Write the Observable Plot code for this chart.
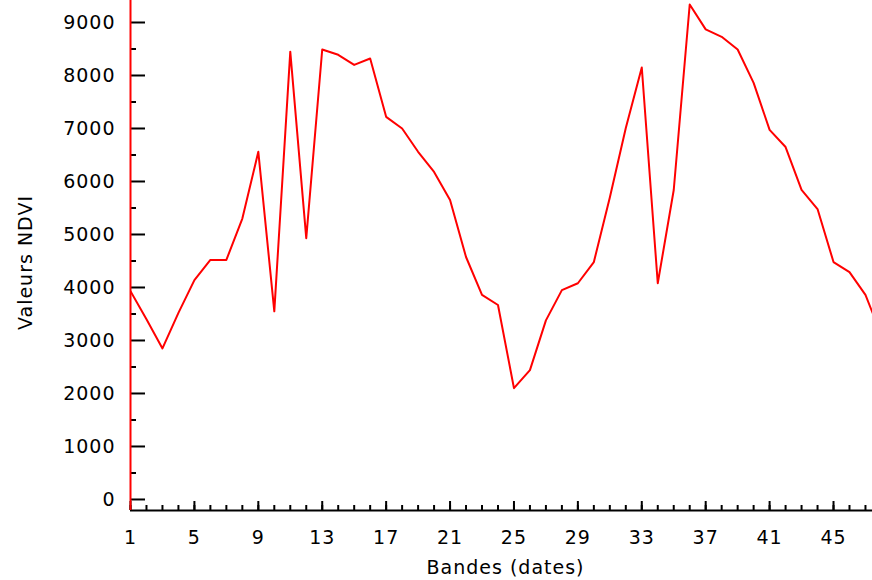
<!DOCTYPE html>
<html>
<head>
<meta charset="utf-8">
<script src="https://cdn.jsdelivr.net/npm/d3@7"></script>
<script src="https://cdn.jsdelivr.net/npm/@observablehq/plot@0.6"></script>
<style>
  html, body { margin: 0; padding: 0; background: #fff; }
</style>
</head>
<body>
<div id="chart"></div>
<script>
const bands = d3.range(1, 49);
const ndvi = [3930, 3400, 2850, 3520, 4140, 4520, 4520, 5300, 6560, 3550,
              8450, 4930, 8490, 8390, 8200, 8320, 7220, 7000, 6560, 6180,
              5650, 4575, 3860, 3670, 2100, 2440, 3380, 3950, 4080, 4480,
              5700, 7010, 8150, 4080, 5840, 9340, 8870, 8730, 8490, 7860,
              6975, 6650, 5840, 5480, 4480, 4290, 3860, 3100];
const yMajor = d3.range(0, 9001, 1000);
const yMinor = d3.range(500, 9000, 1000);
const xMajor = d3.range(1, 48, 4);
const xMinor = d3.range(1, 48, 1);
const xDomain = [1, 47.44];
const yDomain = [-208, 9415];

const data = bands.map((b, i) => ({band: b, value: ndvi[i]}));
const font = "DejaVu Sans";
const frameW = 872 - 130, frameH = 510;

const chart = Plot.plot({
  width: 872,
  height: 580,
  marginLeft: 130,
  marginRight: 0,
  marginTop: 0,
  marginBottom: 70,
  x: {domain: xDomain},
  y: {domain: yDomain},
  style: {fontFamily: font, fontSize: "19px", letterSpacing: "1px", color: "#000", background: "#fff"},
  marks: [
    Plot.axisY(yMajor, {tickSize: 0, tickPadding: 15, tickFormat: d => String(d), fontSize: 19, label: null}),
    Plot.axisX(xMajor, {tickSize: 0, tickPadding: 20, tickFormat: d => String(d), fontSize: 19, label: null}),
    Plot.tickY(yMajor, {y: d => d, stroke: "#000", strokeWidth: 2, insetRight: frameW - 15}),
    Plot.tickY(yMinor, {y: d => d, stroke: "#000", strokeWidth: 2, insetRight: frameW - 6}),
    Plot.tickX(xMajor, {x: d => d, stroke: "#000", strokeWidth: 2, insetTop: frameH - 9}),
    Plot.tickX(xMinor, {x: d => d, stroke: "#000", strokeWidth: 2, insetTop: frameH - 5}),
    Plot.ruleY([yDomain[0]], {stroke: "#000", strokeWidth: 2}),
    Plot.ruleX([xDomain[0]], {stroke: "#ff0000", strokeWidth: 2}),
    Plot.line(data, {x: "band", y: "value", stroke: "#ff0000", strokeWidth: 2, clip: true}),
    Plot.text(["Bandes (dates)"], {frameAnchor: "bottom", textAnchor: "middle", lineAnchor: "middle", dx: 4, dy: 57, fontSize: 19, fill: "#000"}),
    Plot.text(["Valeurs NDVI"], {frameAnchor: "left", textAnchor: "middle", lineAnchor: "middle", rotate: -90, dx: -105, dy: 7, fontSize: 19, fill: "#000"})
  ]
});
document.getElementById("chart").appendChild(chart);
</script>
</body>
</html>
